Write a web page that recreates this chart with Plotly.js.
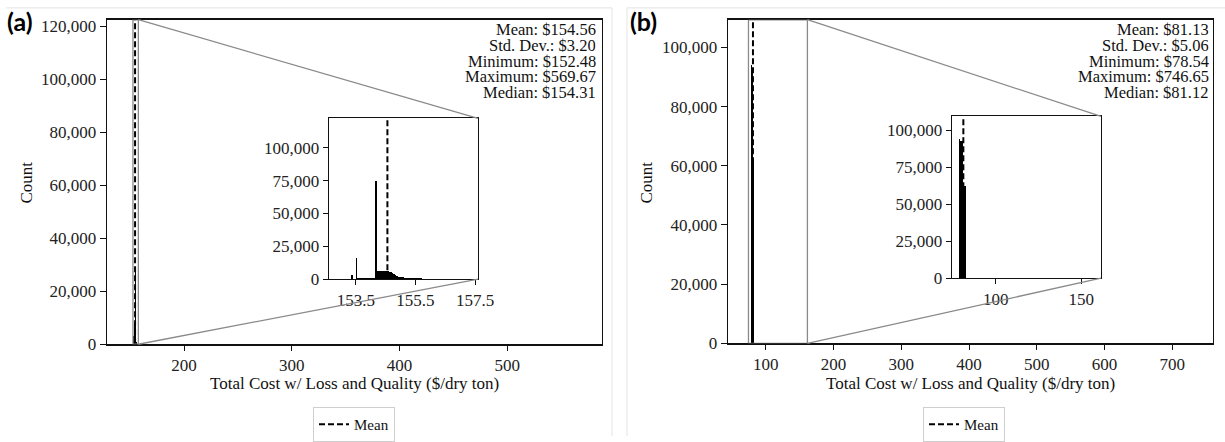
<!DOCTYPE html>
<html><head><meta charset="utf-8">
<script src="https://cdn.plot.ly/plotly-3.0.1.min.js"></script>
<style>html,body{margin:0;padding:0;background:#fff}#chart{width:1225px;height:442px}</style>
</head><body><div id="chart"></div>
<script>
// ---------------- data ----------------
// Panel (a): histogram in the main axes
const mainA_x = [152.9, 153.7, 154.5, 155.3, 156.1];
const mainA_count = [3000, 8000, 29000, 4000, 1000];
// Panel (a): histogram in the inset (zoomed)
const insetA_x = [153.375, 153.425, 153.475, 153.525, 153.575, 153.625, 153.675, 153.725, 153.775, 153.825,
  153.875, 153.925, 153.975, 154.025, 154.075, 154.125, 154.175, 154.225, 154.275, 154.325,
  154.375, 154.425, 154.475, 154.525, 154.575, 154.625, 154.675, 154.725, 154.775, 154.825,
  154.875, 154.925, 154.975, 155.05, 155.15, 155.25, 155.35, 155.45, 155.55, 155.65,
  155.75, 155.85, 155.95, 156.05, 156.15, 156.25, 156.35, 156.45, 156.55];
const insetA_count = [2800, 300, 500, 16000, 800, 900, 900, 900, 900, 900,
  900, 900, 900, 900, 900, 900, 74500, 6400, 6400, 6300,
  6300, 6200, 6100, 6000, 5900, 5700, 5400, 5000, 4200, 3200,
  2400, 1900, 1600, 1400, 1200, 1000, 900, 800, 700, 600,
  500, 400, 350, 300, 250, 200, 150, 120, 100];
// Panel (b): histogram (same bins in main and inset)
const histB_x = [79.0, 79.75, 80.5, 81.25, 82.0];
const histB_count = [94000, 93000, 92500, 63000, 62000];

const meanA = 154.56, meanB = 81.13;
const statsA = ['Mean: $154.56', 'Std. Dev.: $3.20', 'Minimum: $152.48', 'Maximum: $569.67', 'Median: $154.31'];
const statsB = ['Mean: $81.13', 'Std. Dev.: $5.06', 'Minimum: $78.54', 'Maximum: $746.65', 'Median: $81.12'];

const mainA_ticks = [200, 300, 400, 500];
const mainA_yticks = [0, 20000, 40000, 60000, 80000, 100000, 120000];
const insetA_ticks = [153.5, 155.5, 157.5];
const insetA_ticktext = ['153.5', '155.5', '157.5'];
const insetA_yticks = [0, 25000, 50000, 75000, 100000];
const mainB_ticks = [100, 200, 300, 400, 500, 600, 700];
const mainB_yticks = [0, 20000, 40000, 60000, 80000, 100000];
const insetB_ticks = [100, 150];
const insetB_yticks = [0, 25000, 50000, 75000, 100000];

const xTitle = 'Total Cost w/ Loss and Quality ($/dry ton)';
const yTitle = 'Count';

// ---------------- layout helpers ----------------
const W = 1225, H = 442;
const px = v => v / W;
const py = v => 1 - v / H;
const SERIF = "'Liberation Serif', 'Times New Roman', serif";

const ranges = {
  mainA: {x: [128.5, 588], y: [0, 122400]},
  insetA: {x: [152.6, 157.6], y: [0, 122400]},
  mainB: {x: [44.3, 760], y: [0, 109400]},
  insetB: {x: [74.5, 161.5], y: [0, 109400]}
};
const doms = {
  mainA: {x: [px(107), px(602)], y: [py(349), py(20)]},
  insetA: {x: [px(329), px(478)], y: [py(283), py(120)]},
  mainB: {x: [px(728), px(1213)], y: [py(348), py(20)]},
  insetB: {x: [px(952), px(1101)], y: [py(282), py(118)]}
};
function toPaper(r, d, v) { return d[0] + (v - r[0]) / (r[1] - r[0]) * (d[1] - d[0]); }

// bar widths follow the bin spacing (slightly enlarged so adjacent bins merge without hairline gaps)
function widths(xs) {
  return xs.map((v, i) => 1.15 * (i < xs.length - 1 ? (xs[i + 1] - v) : (v - xs[i - 1])));
}

function axis(dom, rng, anchor, tickvals, opts) {
  return Object.assign({
    domain: dom, range: rng, anchor: anchor, tickvals: tickvals,
    showline: true, mirror: true, linecolor: '#111', linewidth: 1.3,
    ticks: 'outside', ticklen: 5, tickcolor: '#111', tickwidth: 1,
    showgrid: false, zeroline: false, fixedrange: true,
    tickfont: {family: SERIF, size: 17, color: '#222'}
  }, opts || {});
}

const dash = '6px,3px';
const traces = [
  {type: 'bar', x: mainA_x, y: mainA_count, width: widths(mainA_x), marker: {color: '#000', line: {width: 0}},
   xaxis: 'x', yaxis: 'y', showlegend: false, hoverinfo: 'skip'},
  {type: 'scatter', mode: 'lines', x: [meanA, meanA], y: ranges.mainA.y, line: {color: '#000', width: 2, dash: dash},
   xaxis: 'x', yaxis: 'y', name: 'Mean', legend: 'legend', showlegend: true},
  {type: 'bar', x: insetA_x, y: insetA_count, width: widths(insetA_x), marker: {color: '#000', line: {width: 0}},
   xaxis: 'x2', yaxis: 'y2', showlegend: false, hoverinfo: 'skip'},
  {type: 'scatter', mode: 'lines', x: [meanA, meanA], y: ranges.insetA.y, line: {color: '#000', width: 2, dash: dash},
   xaxis: 'x2', yaxis: 'y2', showlegend: false},
  {type: 'bar', x: histB_x, y: histB_count, width: widths(histB_x), marker: {color: '#000', line: {width: 0}},
   xaxis: 'x3', yaxis: 'y3', showlegend: false, hoverinfo: 'skip'},
  {type: 'scatter', mode: 'lines', x: [meanB, meanB], y: ranges.mainB.y, line: {color: '#000', width: 2, dash: dash},
   xaxis: 'x3', yaxis: 'y3', name: 'Mean', legend: 'legend2', showlegend: true},
  {type: 'bar', x: histB_x, y: histB_count, width: widths(histB_x), marker: {color: '#000', line: {width: 0}},
   xaxis: 'x4', yaxis: 'y4', showlegend: false, hoverinfo: 'skip'},
  {type: 'scatter', mode: 'lines', x: [meanB, meanB], y: ranges.insetB.y, line: {color: '#000', width: 2, dash: dash},
   xaxis: 'x4', yaxis: 'y4', showlegend: false}
];

// zoom rectangles and connector lines
const GRAY = '#8a8a8a';
function zoomShapes(mainKey, insetKey, xref, yref) {
  const mr = ranges[mainKey], md = doms[mainKey], ir = ranges[insetKey], id = doms[insetKey];
  const rx1 = toPaper(mr.x, md.x, ir.x[1]);
  const ryTop = toPaper(mr.y, md.y, Math.min(ir.y[1], mr.y[1]));
  const ryBot = toPaper(mr.y, md.y, 0);
  return [
    {type: 'rect', xref: xref, yref: yref, x0: ir.x[0], x1: ir.x[1], y0: 0, y1: Math.min(ir.y[1], mr.y[1]),
     line: {color: GRAY, width: 1.3}, fillcolor: 'rgba(0,0,0,0)'},
    {type: 'line', xref: 'paper', yref: 'paper', x0: rx1, y0: ryTop, x1: id.x[1], y1: id.y[1], line: {color: GRAY, width: 1.3}},
    {type: 'line', xref: 'paper', yref: 'paper', x0: rx1, y0: ryBot, x1: id.x[1], y1: id.y[0], line: {color: GRAY, width: 1.3}}
  ];
}
const shapes = [].concat(
  zoomShapes('mainA', 'insetA', 'x', 'y'),
  zoomShapes('mainB', 'insetB', 'x3', 'y3'),
  [
    {type: 'line', xref: 'paper', yref: 'paper', x0: px(6), x1: px(612), y0: py(8), y1: py(8), line: {color: '#e4e4e4', width: 1}},
    {type: 'line', xref: 'paper', yref: 'paper', x0: px(612), x1: px(612), y0: py(8), y1: py(442), line: {color: '#e4e4e4', width: 1}},
    {type: 'line', xref: 'paper', yref: 'paper', x0: px(627), x1: px(1225), y0: py(8), y1: py(8), line: {color: '#e4e4e4', width: 1}},
    {type: 'line', xref: 'paper', yref: 'paper', x0: px(627), x1: px(627), y0: py(8), y1: py(442), line: {color: '#e4e4e4', width: 1}}
  ]
);

const annotations = [];
function statsAnn(lines, rightPx) {
  const ys = [30, 46, 62, 78, 94];
  lines.forEach((t, i) => annotations.push({
    xref: 'paper', yref: 'paper', x: px(rightPx), y: py(ys[i]), xanchor: 'right', yanchor: 'middle',
    height: 15, valign: 'middle', borderpad: 0,
    text: t, showarrow: false, font: {family: SERIF, size: 16.5, color: '#111'}
  }));
}
statsAnn(statsA, 597);
statsAnn(statsB, 1210);
annotations.push(
  {xref: 'paper', yref: 'paper', x: px(354.5), y: py(389), text: xTitle, showarrow: false, xanchor: 'center', yanchor: 'middle', font: {family: SERIF, size: 17, color: '#111'}},
  {xref: 'paper', yref: 'paper', x: px(970.5), y: py(389), text: xTitle, showarrow: false, xanchor: 'center', yanchor: 'middle', font: {family: SERIF, size: 17, color: '#111'}},
  {xref: 'paper', yref: 'paper', x: px(26), y: py(185), text: yTitle, textangle: -90, showarrow: false, xanchor: 'center', yanchor: 'middle', font: {family: SERIF, size: 17, color: '#111'}},
  {xref: 'paper', yref: 'paper', x: px(646), y: py(185), text: yTitle, textangle: -90, showarrow: false, xanchor: 'center', yanchor: 'middle', font: {family: SERIF, size: 17, color: '#111'}},
  {xref: 'paper', yref: 'paper', x: px(20), y: py(21), text: '<b>(a)</b>', showarrow: false, xanchor: 'center', yanchor: 'middle', font: {family: 'Lato, Open Sans, sans-serif', size: 25, color: '#000'}},
  {xref: 'paper', yref: 'paper', x: px(643), y: py(21), text: '<b>(b)</b>', showarrow: false, xanchor: 'center', yanchor: 'middle', font: {family: 'Lato, Open Sans, sans-serif', size: 25, color: '#000'}}
);

const legendStyle = {
  yref: 'paper', y: py(413), yanchor: 'top', xanchor: 'center',
  bordercolor: '#cfcfcf', borderwidth: 1, bgcolor: '#fff',
  font: {family: SERIF, size: 15, color: '#111'}, itemwidth: 30, orientation: 'h',
  tracegroupgap: 0
};

const layout = {
  width: W, height: H, margin: {l: 0, r: 0, t: 0, b: 0},
  paper_bgcolor: '#fff', plot_bgcolor: 'rgba(0,0,0,0)',
  barmode: 'overlay', bargap: 0,
  xaxis: axis(doms.mainA.x, ranges.mainA.x, 'y', mainA_ticks),
  yaxis: axis(doms.mainA.y, ranges.mainA.y, 'x', mainA_yticks, {tickformat: ',', ticklen: 6}),
  xaxis2: axis(doms.insetA.x, ranges.insetA.x, 'y2', insetA_ticks, {ticktext: insetA_ticktext, tickmode: 'array'}),
  yaxis2: axis(doms.insetA.y, ranges.insetA.y, 'x2', insetA_yticks, {tickformat: ','}),
  xaxis3: axis(doms.mainB.x, ranges.mainB.x, 'y3', mainB_ticks),
  yaxis3: axis(doms.mainB.y, ranges.mainB.y, 'x3', mainB_yticks, {tickformat: ',', ticklen: 6}),
  xaxis4: axis(doms.insetB.x, ranges.insetB.x, 'y4', insetB_ticks),
  yaxis4: axis(doms.insetB.y, ranges.insetB.y, 'x4', insetB_yticks, {tickformat: ','}),
  legend: Object.assign({x: px(354)}, legendStyle),
  legend2: Object.assign({x: px(964)}, legendStyle),
  shapes: shapes, annotations: annotations, showlegend: true
};

Plotly.newPlot('chart', traces, layout, {staticPlot: true, displayModeBar: false});
</script></body></html>
